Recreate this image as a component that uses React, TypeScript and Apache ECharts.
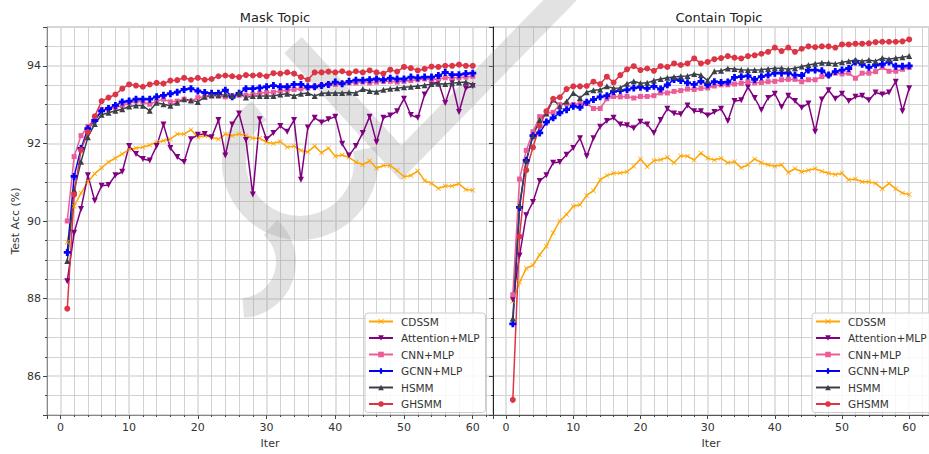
import React, { useEffect, useRef } from "react";
import * as echarts from "echarts";

const FONT = "DejaVu Sans";

const iterations = Array.from({ length: 60 }, (_, i) => i + 1);

const seriesNames = ["CDSSM", "Attention+MLP", "CNN+MLP", "GCNN+MLP", "HSMM", "GHSMM"];
const panelTitles = ["Mask Topic", "Contain Topic"];

// Mask Topic
const maskCDSSM = [89.45, 90.38, 90.72, 91.01, 91.22, 91.37, 91.52, 91.62, 91.73, 91.84, 91.88, 91.9, 91.96, 92.03, 92.07, 92.11, 92.24, 92.24, 92.35, 92.16, 92.2, 92.16, 92.11, 92.24, 92.2, 92.24, 92.2, 92.13, 92.13, 92.03, 92.0, 92.05, 91.9, 91.93, 91.82, 91.78, 91.93, 91.76, 91.88, 91.67, 91.7, 91.64, 91.52, 91.45, 91.55, 91.36, 91.43, 91.43, 91.3, 91.14, 91.17, 91.29, 91.04, 90.97, 90.84, 90.9, 90.9, 90.96, 90.81, 90.79];
const maskAttn = [88.45, 89.7, 90.31, 91.18, 90.52, 90.91, 90.93, 91.18, 91.27, 91.93, 91.73, 91.6, 91.56, 91.93, 92.49, 91.88, 91.65, 91.52, 92.11, 92.22, 92.24, 92.16, 92.6, 91.69, 92.49, 92.77, 92.09, 90.68, 92.62, 92.11, 92.27, 92.45, 92.3, 92.6, 91.06, 92.41, 92.66, 92.54, 92.62, 92.69, 91.99, 91.69, 91.93, 92.27, 92.69, 92.03, 92.66, 92.72, 92.83, 93.15, 92.73, 92.66, 93.26, 93.53, 93.59, 93.04, 93.57, 92.81, 93.42, 93.48];
const maskCNN = [90.0, 91.66, 92.2, 92.44, 92.63, 92.87, 92.88, 92.93, 92.97, 93.04, 93.09, 93.07, 93.01, 93.09, 93.14, 93.07, 93.09, 93.14, 93.09, 93.18, 93.2, 93.22, 93.22, 93.2, 93.22, 93.24, 93.24, 93.26, 93.29, 93.31, 93.32, 93.35, 93.37, 93.39, 93.41, 93.43, 93.46, 93.49, 93.52, 93.52, 93.54, 93.56, 93.56, 93.58, 93.56, 93.58, 93.6, 93.6, 93.58, 93.6, 93.62, 93.64, 93.66, 93.64, 93.66, 93.69, 93.69, 93.69, 93.71, 93.73];
const maskGCNN = [89.19, 91.15, 91.87, 92.38, 92.59, 92.84, 92.9, 92.98, 93.07, 93.09, 93.14, 93.14, 93.14, 93.2, 93.24, 93.28, 93.32, 93.39, 93.41, 93.35, 93.31, 93.29, 93.29, 93.37, 93.2, 93.29, 93.41, 93.41, 93.43, 93.46, 93.49, 93.46, 93.46, 93.52, 93.52, 93.46, 93.46, 93.49, 93.52, 93.58, 93.54, 93.6, 93.63, 93.63, 93.64, 93.66, 93.64, 93.68, 93.66, 93.66, 93.71, 93.69, 93.71, 93.71, 93.75, 93.83, 93.77, 93.77, 93.8, 93.81];
const maskHSMM = [88.97, 90.8, 91.53, 92.16, 92.5, 92.74, 92.79, 92.84, 92.88, 92.95, 92.98, 92.97, 92.84, 93.05, 93.01, 92.97, 93.05, 93.14, 93.11, 93.07, 93.2, 93.24, 93.24, 93.26, 93.22, 93.29, 93.18, 93.22, 93.22, 93.22, 93.22, 93.26, 93.28, 93.22, 93.28, 93.3, 93.22, 93.29, 93.3, 93.3, 93.3, 93.31, 93.3, 93.4, 93.35, 93.33, 93.38, 93.41, 93.42, 93.45, 93.46, 93.48, 93.5, 93.53, 93.54, 93.53, 93.55, 93.57, 93.58, 93.52];
const maskGHSMM = [87.74, 90.68, 91.83, 92.29, 92.7, 93.09, 93.18, 93.26, 93.41, 93.52, 93.49, 93.46, 93.52, 93.56, 93.54, 93.62, 93.63, 93.69, 93.64, 93.69, 93.64, 93.66, 93.73, 93.75, 93.73, 93.71, 93.76, 93.75, 93.76, 93.73, 93.81, 93.8, 93.83, 93.8, 93.71, 93.64, 93.83, 93.83, 93.85, 93.83, 93.86, 93.81, 93.86, 93.83, 93.88, 93.83, 93.8, 93.9, 93.85, 93.97, 93.94, 93.88, 93.92, 93.98, 93.97, 94.0, 94.0, 94.03, 94.0, 94.0];

// Contain Topic
const contCDSSM = [87.93, 88.42, 88.78, 88.86, 89.13, 89.35, 89.7, 90.0, 90.17, 90.38, 90.42, 90.66, 90.78, 91.06, 91.17, 91.23, 91.24, 91.27, 91.41, 91.6, 91.4, 91.56, 91.58, 91.64, 91.5, 91.68, 91.67, 91.57, 91.75, 91.62, 91.57, 91.62, 91.5, 91.53, 91.37, 91.45, 91.6, 91.5, 91.45, 91.41, 91.45, 91.25, 91.35, 91.27, 91.31, 91.35, 91.28, 91.23, 91.2, 91.23, 91.06, 91.08, 91.01, 91.01, 90.97, 90.83, 90.97, 90.83, 90.72, 90.68];
const contAttn = [87.98, 89.11, 90.15, 90.49, 91.03, 91.18, 91.5, 91.52, 91.71, 91.88, 92.13, 91.67, 92.13, 92.43, 92.58, 92.66, 92.49, 92.47, 92.39, 92.56, 92.49, 92.27, 92.6, 92.89, 92.77, 92.75, 92.98, 92.83, 92.83, 92.72, 92.81, 92.89, 92.58, 93.09, 93.11, 93.45, 93.17, 92.86, 93.17, 93.28, 92.94, 93.23, 93.09, 92.92, 93.03, 92.3, 93.13, 93.37, 93.15, 93.28, 93.09, 93.2, 93.23, 93.11, 93.31, 93.26, 93.31, 93.59, 92.83, 93.42];
const contCNN = [88.1, 91.08, 91.82, 92.3, 92.69, 92.77, 92.8, 93.0, 93.02, 93.0, 93.03, 93.03, 92.9, 92.9, 93.15, 93.21, 93.2, 93.21, 93.17, 93.21, 93.21, 93.23, 93.3, 93.3, 93.34, 93.36, 93.4, 93.39, 93.42, 93.43, 93.48, 93.51, 93.51, 93.53, 93.55, 93.59, 93.56, 93.57, 93.59, 93.6, 93.64, 93.65, 93.65, 93.59, 93.64, 93.64, 93.72, 93.76, 93.81, 93.79, 93.81, 93.68, 93.81, 93.81, 93.85, 93.96, 93.86, 93.86, 93.91, 93.96];
const contGCNN = [87.35, 90.35, 91.56, 92.2, 92.27, 92.55, 92.66, 92.79, 92.87, 92.96, 92.93, 93.06, 93.13, 93.2, 93.23, 93.34, 93.36, 93.38, 93.43, 93.45, 93.42, 93.47, 93.4, 93.51, 93.65, 93.62, 93.56, 93.52, 93.6, 93.51, 93.59, 93.57, 93.58, 93.7, 93.72, 93.74, 93.65, 93.72, 93.76, 93.81, 93.81, 93.81, 93.76, 93.75, 93.89, 93.89, 93.87, 93.76, 93.85, 93.89, 93.93, 94.1, 94.04, 93.96, 94.02, 94.04, 94.1, 93.99, 93.99, 94.0];
const contHSMM = [87.49, 90.4, 91.56, 92.2, 92.6, 92.77, 93.13, 92.96, 93.08, 93.3, 93.17, 93.32, 93.37, 93.38, 93.47, 93.42, 93.43, 93.54, 93.6, 93.55, 93.56, 93.62, 93.66, 93.69, 93.71, 93.73, 93.74, 93.79, 93.76, 93.62, 93.86, 93.87, 93.93, 93.92, 93.9, 93.89, 93.89, 93.9, 93.92, 93.94, 93.94, 93.91, 93.94, 93.98, 94.02, 94.05, 94.08, 94.07, 94.05, 94.09, 94.12, 94.15, 94.12, 94.15, 94.12, 94.2, 94.17, 94.2, 94.22, 94.25];
const contGHSMM = [85.39, 89.6, 91.31, 91.9, 92.45, 92.83, 93.15, 93.19, 93.4, 93.47, 93.47, 93.48, 93.59, 93.53, 93.72, 93.57, 93.76, 93.91, 93.99, 93.89, 93.93, 93.87, 93.99, 93.97, 94.06, 94.02, 94.06, 94.19, 94.06, 94.1, 94.17, 94.2, 94.25, 94.21, 94.19, 94.25, 94.27, 94.31, 94.36, 94.47, 94.38, 94.47, 94.36, 94.44, 94.5, 94.48, 94.5, 94.5, 94.47, 94.55, 94.55, 94.57, 94.57, 94.58, 94.61, 94.62, 94.62, 94.62, 94.63, 94.68];

const maskData = [maskCDSSM, maskAttn, maskCNN, maskGCNN, maskHSMM, maskGHSMM];
const contData = [contCDSSM, contAttn, contCNN, contGCNN, contHSMM, contGHSMM];

const colors = ["#FFA500", "#800080", "#EB5C99", "#0000FF", "#3B4048", "#DC3545"];
const symbols = [
  "path://M1,0L5,4L9,0L10,1L6,5L10,9L9,10L5,6L1,10L0,9L4,5L0,1Z",
  "path://M0,0L10,0L5,9Z",
  "rect",
  "path://M3,0H7V3H10V7H7V10H3V7H0V3H3Z",
  "path://M5,0L10,9L0,9Z",
  "circle",
];
const symbolSizes = [5, 6, 5, 7, 6, 6];

export default function App() {
  const ref = useRef<HTMLDivElement>(null);

  useEffect(() => {
    if (!ref.current) return;
    const chart = echarts.init(ref.current, null, { renderer: "svg" });

    const grids = [
      { left: 47, top: 27, width: 446, height: 394 },
      { left: 493, top: 27, width: 446, height: 394 },
    ];

    const xAxes = grids.map((_, g) => ({
      type: "value",
      gridIndex: g,
      min: -1.95,
      max: 62.95,
      axisLine: { show: true, onZero: false, lineStyle: { color: g === 0 ? "#888" : "#555", width: 1 } },
      axisTick: { show: true, length: 4, lineStyle: { color: "#444" } },
      minorTick: { show: true, splitNumber: 5, length: 2, lineStyle: { color: "#444" } },
      axisLabel: { fontSize: 11, color: "#333", fontFamily: FONT, margin: 7, showMinLabel: false, showMaxLabel: false },
      splitLine: { show: true, lineStyle: { color: "#dadada", width: 1.6 } },
      minorSplitLine: { show: true, lineStyle: { color: "#c6c6c6", width: 0.8 } },
      name: "Iter",
      nameLocation: "middle",
      nameGap: 23,
      nameTextStyle: { fontSize: 11, color: "#333", fontFamily: FONT },
    }));

    const yAxes = grids.map((_, g) => ({
      type: "value",
      gridIndex: g,
      min: 85,
      max: 95,
      axisLine: { show: true, onZero: false, lineStyle: { color: g === 0 ? "#888" : "#222", width: 1 } },
      axisTick: { show: true, length: 4, lineStyle: { color: "#444" } },
      minorTick: { show: true, splitNumber: 4, length: 2, lineStyle: { color: "#444" } },
      axisLabel: { show: g === 0, fontSize: 11, color: "#333", fontFamily: FONT, margin: 6, showMinLabel: false, showMaxLabel: false },
      splitLine: { show: true, lineStyle: { color: "#dadada", width: 1.6 } },
      minorSplitLine: { show: true, lineStyle: { color: "#c6c6c6", width: 0.8 } },
      name: g === 0 ? "Test Acc (%)" : "",
      nameLocation: "middle",
      nameGap: 26,
      nameTextStyle: { fontSize: 11, color: "#333", fontFamily: FONT },
    }));

    const makeSeries = (g: number, data: number[][]) =>
      seriesNames.map((name, k) => ({
        name,
        type: "line",
        xAxisIndex: g,
        yAxisIndex: g,
        data: iterations.map((x, i) => [x, data[k][i]]),
        symbol: symbols[k],
        symbolSize: symbolSizes[k],
        showSymbol: true,
        lineStyle: { width: 1.5, color: colors[k] },
        itemStyle: { color: colors[k] },
        emphasis: { disabled: true },
        silent: true,
      }));

    const legendBase = {
      data: seriesNames,
      orient: "vertical",
      top: 313,
      itemWidth: 24,
      itemHeight: 7,
      itemGap: 5.5,
      padding: [3, 6, 3, 3],
      backgroundColor: "rgba(255,255,255,0.85)",
      borderColor: "#cccccc",
      borderWidth: 1,
      borderRadius: 3,
      selectedMode: false,
      textStyle: { fontSize: 10.5, color: "#333", fontFamily: FONT, padding: [0, 0, 0, 3] },
    };

    const wm = "rgba(150,150,150,0.28)";

    chart.setOption({
      animation: false,
      backgroundColor: "#ffffff",
      textStyle: { fontFamily: FONT },
      title: [
        { text: panelTitles[0], left: 270, top: 6, textAlign: "center", textStyle: { fontSize: 13, fontWeight: "normal", color: "#222", fontFamily: FONT } },
        { text: panelTitles[1], left: 714, top: 6, textAlign: "center", textStyle: { fontSize: 13, fontWeight: "normal", color: "#222", fontFamily: FONT } },
      ],
      grid: grids.map((g) => ({ ...g, show: true, borderColor: "#999", borderWidth: 1, backgroundColor: "transparent" })),
      xAxis: xAxes,
      yAxis: yAxes,
      legend: [
        { ...legendBase, left: 365 },
        { ...legendBase, left: 812 },
      ],
      graphic: [
        {
          type: "polyline",
          z: 1,
          silent: true,
          shape: { points: [[293, 45], [401, 163], [568, -8]] },
          style: { stroke: wm, lineWidth: 24, fill: "none", lineJoin: "miter" },
        },
        {
          type: "arc",
          z: 1,
          silent: true,
          shape: { cx: 300, cy: 162, r: 66, startAngle: -0.2, endAngle: Math.PI + 0.9, clockwise: true },
          style: { stroke: wm, lineWidth: 24, fill: "none" },
        },
        {
          type: "arc",
          z: 1,
          silent: true,
          shape: { cx: 240, cy: 262, r: 46, startAngle: -0.85, endAngle: 1.5, clockwise: true },
          style: { stroke: wm, lineWidth: 20, fill: "none" },
        },
      ],
      series: [...makeSeries(0, maskData), ...makeSeries(1, contData)],
    });

    return () => {
      chart.dispose();
    };
  }, []);

  return (
    <div
      ref={ref}
      style={{ position: "fixed", left: 0, top: 0, width: 929, height: 454, background: "#fff" }}
    />
  );
}
